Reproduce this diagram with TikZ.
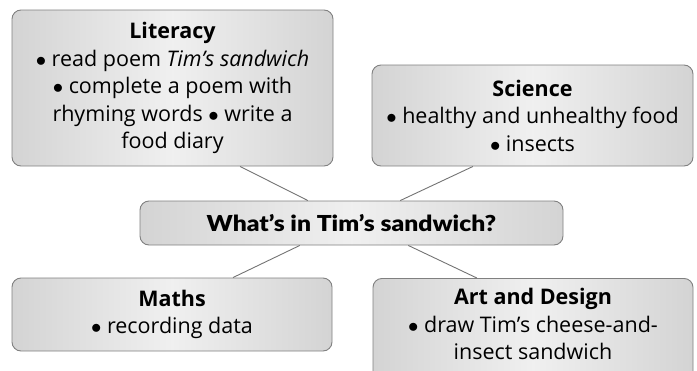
\documentclass[tikz,border=0pt]{standalone}
\usepackage{fontspec}
\setmainfont{Open Sans}
\newfontfamily\heavyfont[FakeStretch=1.12]{Lato Black}
\usetikzlibrary{calc}
\newcommand\bul{$\bullet$}
\tikzset{
  topic/.style={draw=black!50, line width=0.9pt, rounded corners=9pt, top color=black!17, bottom color=black!17, middle color=black!6, shading angle=90, align=center, inner sep=0pt, font=\fontsize{21.5}{27.5}\selectfont},
  link/.style={draw=black!55, line width=0.9pt},
}
\begin{document}
\begin{tikzpicture}[x=1pt,y=-1pt]
\useasboundingbox (0,0) rectangle (697,370);
\begin{scope}
\clip (0,0) rectangle (697,370);
\node[topic, minimum width=321pt, minimum height=156pt] (lit) at (172.5,88) {\textbf{Literacy}\\ \bul{} read poem \textit{Tim’s sandwich}\\ \bul{} complete a poem with\\ rhyming words \bul{} write a\\ food diary};
\node[topic, minimum width=321pt, minimum height=101pt] (sci) at (532.5,115.5) {\textbf{Science}\\ \bul{} healthy and unhealthy food\\ \bul{} insects};
\node[topic, minimum width=423pt, minimum height=44pt, font=\fontsize{22}{24}\selectfont] (ctr) at (351.5,223) {\heavyfont What’s in Tim’s sandwich?};
\node[topic, minimum width=320pt, minimum height=73pt] (mat) at (172,314.5) {\textbf{Maths}\\ \bul{} recording data};
\node[topic, minimum width=320pt, minimum height=104pt, anchor=north] (art) at (533,278) {};
\node[align=center, anchor=north, font=\fontsize{21.5}{27.5}\selectfont, inner sep=0pt] (arttext) at (533,288) {\textbf{Art and Design}\\ \bul{} draw Tim’s cheese-and-\\ insect sandwich};
\end{scope}
\draw[link] ($(lit.south west)!0.71!(lit.south east)$) -- ($(ctr.north west)!0.397!(ctr.north east)$);
\draw[link] ($(sci.south west)!0.315!(sci.south east)$) -- ($(ctr.north west)!0.615!(ctr.north east)$);
\draw[link] ($(ctr.south west)!0.378!(ctr.south east)$) -- ($(mat.north west)!0.69!(mat.north east)$);
\draw[link] ($(ctr.south west)!0.634!(ctr.south east)$) -- ($(art.north west)!0.325!(art.north east)$);
\end{tikzpicture}
\end{document}
